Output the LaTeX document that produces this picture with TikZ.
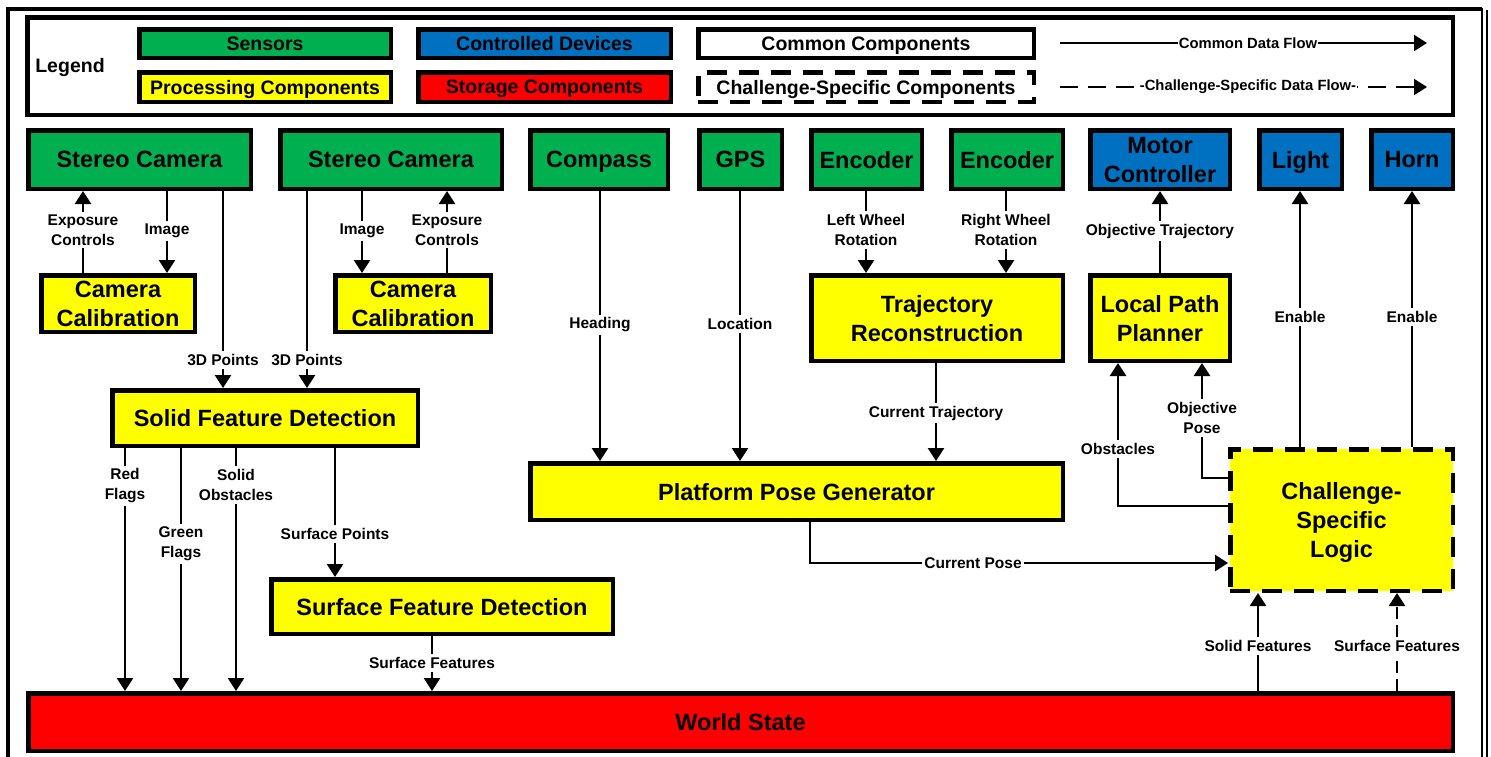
\documentclass[tikz,border=0pt]{standalone}
\usepackage{fontspec}
\setmainfont{Liberation Sans}
\usetikzlibrary{arrows.meta}
\definecolor{sgreen}{HTML}{00B050}
\definecolor{cblue}{HTML}{0070C0}
\definecolor{pyellow}{HTML}{FFFF00}
\definecolor{sred}{HTML}{FF0000}
\newcommand{\comp}[7]{\node[#6,minimum width={(#4-#2-4.5)*0.5pt},minimum height={(#5-#3-4.5)*0.5pt}] (#1) at ({(#2+#4)/2},{(#3+#5)/2}) {#7};}
\begin{document}
\begin{tikzpicture}[x=0.5pt,y=-0.5pt,
  comp/.style={draw,line width=2.25pt,align=center,inner sep=0pt,text depth=0pt,font=\bfseries\fontsize{11.75}{14.5}\selectfont},
  legbox/.style={draw,line width=2.25pt,align=center,inner sep=0pt,text depth=0pt,font=\bfseries\fontsize{9.75}{12}\selectfont},
  csdash/.style={dash pattern=on 10pt off 6pt},
  flow/.style={line width=1.3pt,-{Triangle[length=6.5pt,width=8pt]}},
  dflow/.style={flow,dash pattern=on 6pt off 3pt},
  lflow/.style={line width=1pt,-{Triangle[length=6.5pt,width=8pt]}},
  ldflow/.style={lflow,dash pattern=on 9pt off 5pt},
  lbl/.style={fill=white,align=center,inner xsep=1pt,inner ysep=1.5pt,font=\bfseries\fontsize{7.75}{10}\selectfont},
  llbl/.style={fill=white,inner xsep=0.5pt,inner ysep=1pt,font=\bfseries\fontsize{7.4}{9}\selectfont},
  frame/.style={line width=2pt},
  thinframe/.style={line width=0.75pt}]
\useasboundingbox (0,0) rectangle (1491,756);
% outer frame
\draw[frame] (8,760) -- (8,9) -- (1482,9);
\draw[thinframe] (1482,8) -- (1482,760);
\draw[thinframe] (1487,10) -- (1487,760);
% legend
\comp{legend}{25}{15}{1455}{117}{legbox,fill=white}{}
\node[font=\bfseries\fontsize{9.75}{12}\selectfont] (legtitle) at (70,67) {Legend};
\comp{lsens}{137}{27}{393}{60}{legbox,fill=sgreen}{Sensors}
\comp{lctrl}{416}{27}{673}{60}{legbox,fill=cblue}{Controlled Devices}
\comp{lcommon}{696}{27}{1036}{60}{legbox,fill=white}{Common Components}
\comp{lproc}{137}{70}{393}{104}{legbox,fill=pyellow}{Processing Components}
\comp{lstor}{416}{70}{673}{104}{legbox,fill=sred}{Storage Components}
\comp{lchal}{696}{70}{1036}{104}{legbox,fill=white,csdash}{Challenge-Specific Components}
\coordinate (cfa) at (1060,43);
\coordinate (cfb) at (1427,43);
\coordinate (dfa) at (1060,87);
\coordinate (dfb) at (1427,87);
\draw[lflow] (cfa) -- (cfb);
\draw[ldflow] (dfa) -- (dfb);
\node[llbl] (cfl) at (1248,43) {Common Data Flow};
\node[llbl] (dfl) at (1248,87) {-Challenge-Specific Data Flow-};
% sensors and devices
\comp{cam1}{26}{128}{253}{191}{comp,fill=sgreen}{Stereo Camera}
\comp{cam2}{278}{128}{504}{191}{comp,fill=sgreen}{Stereo Camera}
\comp{compass}{528}{128}{670}{191}{comp,fill=sgreen}{Compass}
\comp{gps}{697}{128}{784}{191}{comp,fill=sgreen}{GPS}
\comp{enc1}{809}{128}{924}{191}{comp,fill=sgreen}{Encoder}
\comp{enc2}{949}{128}{1065}{191}{comp,fill=sgreen}{Encoder}
\comp{motor}{1088}{128}{1232}{191}{comp,fill=cblue}{Motor\\Controller}
\comp{light}{1257}{128}{1344}{191}{comp,fill=cblue}{Light}
\comp{horn}{1369}{128}{1455}{191}{comp,fill=cblue}{Horn}
% processing
\comp{calib1}{39}{273}{197}{334}{comp,fill=pyellow}{Camera\\Calibration}
\comp{calib2}{333}{273}{493}{334}{comp,fill=pyellow}{Camera\\Calibration}
\comp{traj}{809}{273}{1065}{363}{comp,fill=pyellow}{Trajectory\\Reconstruction}
\comp{lpp}{1088}{273}{1232}{363}{comp,fill=pyellow}{Local Path\\Planner}
\comp{sfd}{110}{388}{420}{448}{comp,fill=pyellow}{Solid Feature Detection}
\comp{ppg}{528}{461}{1065}{522}{comp,fill=pyellow}{Platform Pose Generator}
\comp{csl}{1228}{447}{1455}{593}{comp,fill=pyellow,csdash}{Challenge-\\Specific\\Logic}
\comp{surf}{269}{577}{615}{636}{comp,fill=pyellow}{Surface Feature Detection}
\comp{world}{26}{691}{1455}{753}{comp,fill=sred}{World State}
% camera flows
\draw[flow] (calib1.north -| 83,0) -- (cam1.south -| 83,0);
\draw[flow] (cam1.south -| 167,0) -- (calib1.north -| 167,0);
\draw[flow] (cam1.south -| 223,0) -- (sfd.north -| 223,0);
\draw[flow] (cam2.south -| 307,0) -- (sfd.north -| 307,0);
\draw[flow] (cam2.south -| 362,0) -- (calib2.north -| 362,0);
\draw[flow] (calib2.north -| 447,0) -- (cam2.south -| 447,0);
\node[lbl] (lexp1) at (83,230) {Exposure\\Controls};
\node[lbl] (limg1) at (167,231) {Image};
\node[lbl] (l3d1) at (223,360) {3D Points};
\node[lbl] (l3d2) at (307,360) {3D Points};
\node[lbl] (limg2) at (362,231) {Image};
\node[lbl] (lexp2) at (447,230) {Exposure\\Controls};
% solid feature detection outputs
\draw[flow] (sfd.south -| 125,0) -- (world.north -| 125,0);
\draw[flow] (sfd.south -| 181,0) -- (world.north -| 181,0);
\draw[flow] (sfd.south -| 236,0) -- (world.north -| 236,0);
\draw[flow] (sfd.south -| 335,0) -- (surf.north -| 335,0);
\draw[flow] (surf.south -| 432,0) -- (world.north -| 432,0);
\node[lbl] (lred) at (125,486) {Red\\Flags};
\node[lbl] (lgreen) at (181,544) {Green\\Flags};
\node[lbl] (lsolid) at (236,485) {Solid\\Obstacles};
\node[lbl] (lsurfp) at (335,534) {Surface Points};
\node[lbl] (lsurff) at (432,663) {Surface Features};
% pose flows
\draw[flow] (compass.south -| 600,0) -- (ppg.north -| 600,0);
\draw[flow] (gps.south -| 740,0) -- (ppg.north -| 740,0);
\draw[flow] (enc1.south -| 866,0) -- (traj.north -| 866,0);
\draw[flow] (enc2.south -| 1006,0) -- (traj.north -| 1006,0);
\draw[flow] (traj.south -| 936,0) -- (ppg.north -| 936,0);
\draw[flow] (ppg.south -| 810,0) |- (csl.west |- 0,563);
\node[lbl] (lhead) at (600,325) {Heading};
\node[lbl] (lloc) at (740,324) {Location};
\node[lbl] (lleft) at (866,230) {Left Wheel\\Rotation};
\node[lbl] (lright) at (1006,230) {Right Wheel\\Rotation};
\node[lbl] (lctraj) at (936,413) {Current Trajectory};
\node[lbl] (lcpose) at (973,563) {Current Pose};
% challenge logic flows
\draw[flow] (lpp.north -| 1160,0) -- (motor.south -| 1160,0);
\draw[flow] (csl.north -| 1300,0) -- (light.south -| 1300,0);
\draw[flow] (csl.north -| 1412,0) -- (horn.south -| 1412,0);
\draw[flow] (csl.west |- 0,506) -| (lpp.south -| 1118,0);
\draw[flow] (csl.west |- 0,478) -| (lpp.south -| 1202,0);
\draw[flow] (world.north -| 1258,0) -- (csl.south -| 1258,0);
\draw[dflow] (world.north -| 1397,0) -- (csl.south -| 1397,0);
\node[lbl] (lobjt) at (1160,231) {Objective Trajectory};
\node[lbl] (len1) at (1300,317) {Enable};
\node[lbl] (len2) at (1412,317) {Enable};
\node[lbl] (lobs) at (1118,449) {Obstacles};
\node[lbl] (lobjp) at (1202,418) {Objective\\Pose};
\node[lbl] (lsolf) at (1258,646) {Solid Features};
\node[lbl] (lsurf2) at (1397,646) {Surface Features};
\end{tikzpicture}
\end{document}
